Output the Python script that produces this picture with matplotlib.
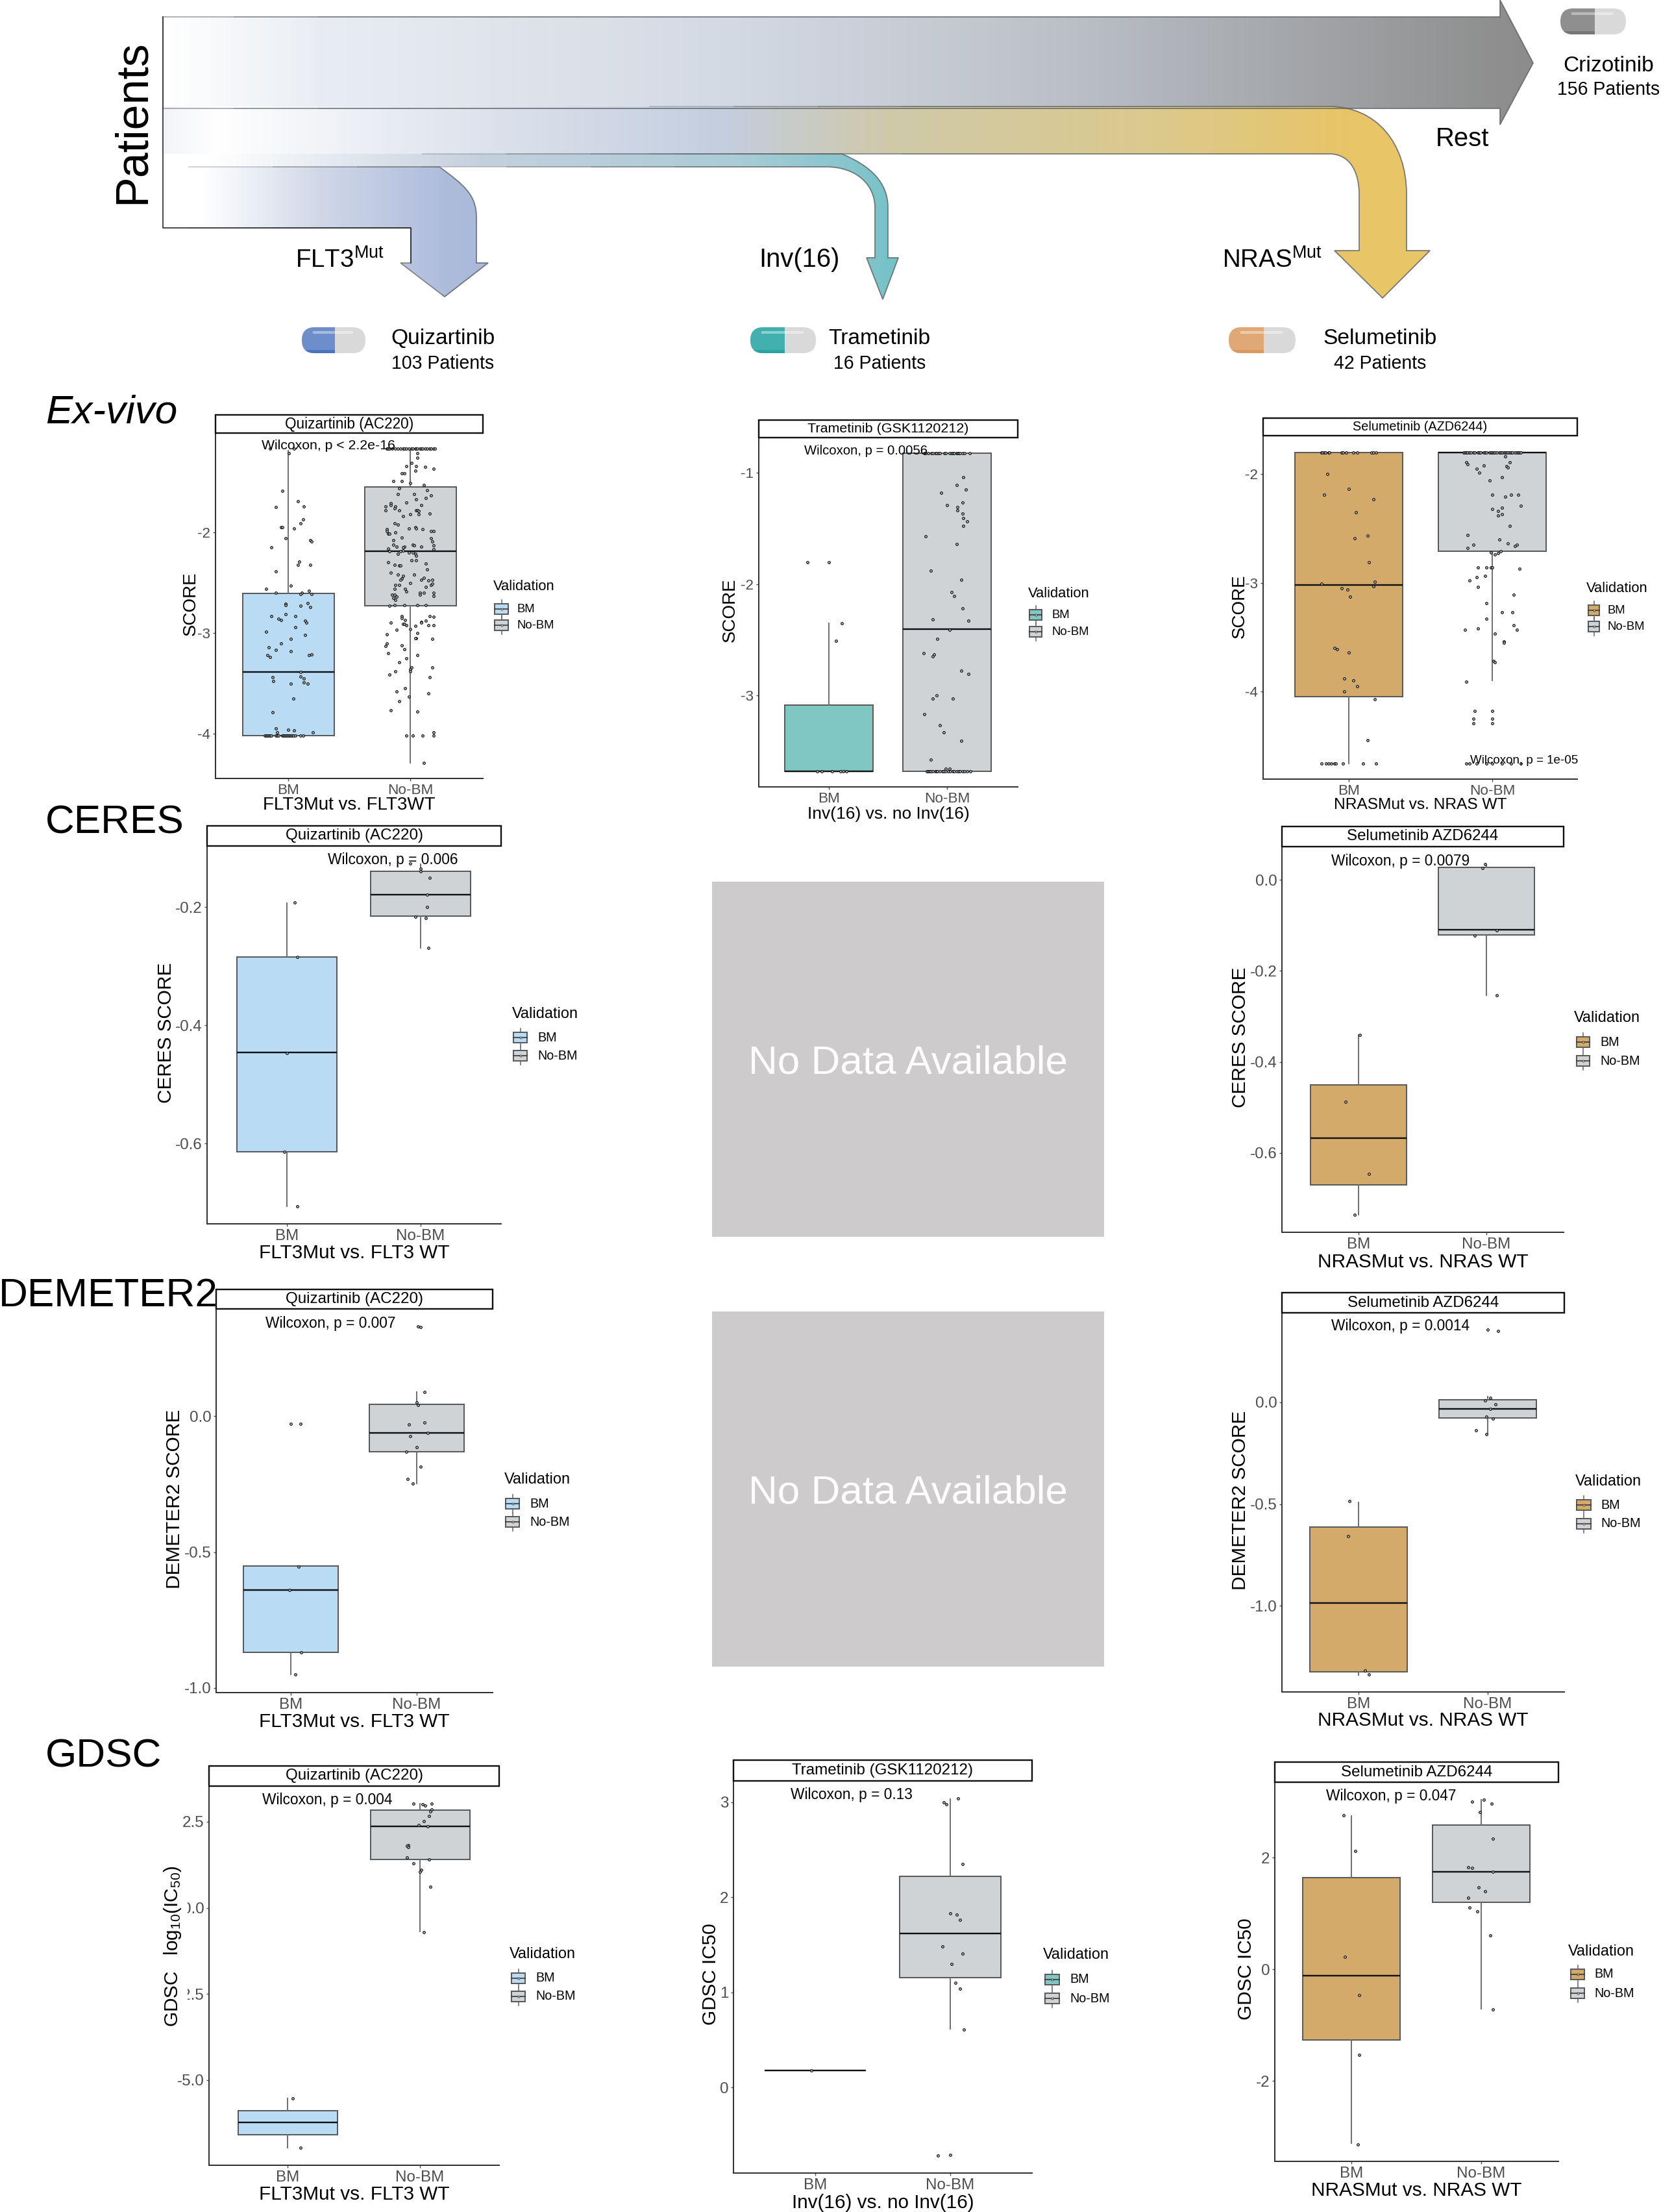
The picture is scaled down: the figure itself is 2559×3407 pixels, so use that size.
import matplotlib
matplotlib.use("Agg")
import numpy as np
import matplotlib.pyplot as plt
from matplotlib.path import Path
from matplotlib.patches import PathPatch, Rectangle, FancyBboxPatch
from matplotlib.colors import LinearSegmentedColormap

plt.rcParams['font.family'] = ['Liberation Sans', 'DejaVu Sans']
plt.rcParams['mathtext.fontset'] = 'custom'
plt.rcParams['mathtext.rm'] = 'Liberation Sans'
plt.rcParams['mathtext.it'] = 'Liberation Sans:italic'
plt.rcParams['mathtext.default'] = 'regular'

W, H = 2559, 3407
GROUPS = ["BM", "No-BM"]
BLUE, TEAL, TAN, GREY = '#b9dbf4', '#80c6c2', '#d4aa6b', '#d0d3d6'

# box stats are [q1, median, q3, whisker low, whisker high]
# points are (horizontal jitter, value)

# ---- Ex-vivo
ev_quiz_bm_box = [-4.02, -3.39, -2.605, -4.02, -1.19]
ev_quiz_nobm_box = [-2.73, -2.19, -1.55, -4.29, -1.17]
ev_quiz_bm_floor = [-.19, -.18, -.17, -.16, -.15, -.14, -.10, -.09, -.08, -.05, -.04, -.03, -.02, -.01, 0, .01, .02, .03, .04, .06, .10, .12]
ev_quiz_bm_pts = [(-.15, -1.17), (.005, -1.21), (.05, -1.17), (-.05, -1.59), (.08, -1.69), (.13, -1.74), (-.10, -1.75),
                  (.12, -1.87), (.10, -1.91), (-.06, -1.95), (-.05, -1.95), (.05, -1.96), (-.02, -2.06), (.18, -2.08),
                  (.19, -2.09), (-.14, -2.15), (.09, -2.29), (.08, -2.32), (.18, -2.32), (-.10, -2.39), (.02, -2.53),
                  (-.18, -2.56), (-.10, -2.60), (.11, -2.60), (.10, -2.61), (.17, -2.58), (.19, -2.61), (-.02, -2.71),
                  (-.02, -2.72), (.16, -2.70), (.10, -2.73), (.18, -2.74), (-.02, -2.81), (-.14, -2.83), (.06, -2.83),
                  (-.08, -2.86), (-.06, -2.87), (.14, -2.88), (.15, -2.90), (.06, -2.94), (-.18, -2.99), (.02, -3.06),
                  (.14, -3.02), (-.06, -3.10), (-.16, -3.14), (-.10, -3.17), (.02, -3.18), (.19, -3.21), (.17, -3.22),
                  (-.17, -3.22), (-.15, -3.24), (.10, -3.39), (.10, -3.43), (.13, -3.45), (-.13, -3.44), (-.12, -3.48),
                  (.02, -3.50), (.13, -3.49), (.16, -3.50), (.04, -3.65), (-.13, -3.79), (-.10, -3.95), (-.09, -3.99),
                  (0, -3.96), (.05, -3.97), (.20, -3.99)]
ev_quiz_nobm_ceiling = [-.19, -.18, -.17, -.15, -.12, -.10, -.08, -.06, -.05, -.03, -.01, .01, .02, .04, .05, .06, .08, .09, .10, .12, .14, .16, .17, .19, .20]
ev_quiz_nobm_pts = [(.06, -1.21), (.06, -1.26), (.01, -1.31), (-.03, -1.34), (.05, -1.34), (.12, -1.35), (.19, -1.37),
                    (.04, -1.39), (-.07, -1.41), (-.05, -1.41), (-.14, -1.49), (-.07, -1.49), (0, -1.51), (.11, -1.53),
                    (-.09, -1.56), (.14, -1.58), (-.10, -1.62), (.03, -1.62), (.17, -1.63), (.13, -1.66), (.05, -1.67),
                    (-.03, -1.70), (.09, -1.73), (-.16, -1.71), (-.20, -1.74), (-.16, -1.73), (-.12, -1.74), (-.20, -1.78),
                    (-.13, -1.76), (-.09, -1.78), (.05, -1.78), (.06, -1.78), (.07, -1.79), (0, -1.82), (.07, -1.82),
                    (.16, -1.81), (-.06, -1.84), (-.13, -1.91), (-.10, -1.92), (.04, -1.95), (.05, -1.96), (-.01, -1.96),
                    (-.19, -1.97), (-.19, -1.99), (-.18, -2.01), (-.17, -2.01), (-.12, -2.0), (.10, -1.97), (.17, -1.99),
                    (.19, -1.99), (-.07, -2.05), (.17, -2.06), (-.14, -2.08), (.18, -2.09), (-.14, -2.12), (.19, -2.13),
                    (.02, -2.12), (.03, -2.13), (-.11, -2.14), (.09, -2.14), (-.05, -2.14), (-.06, -2.15), (-.18, -2.16),
                    (.19, -2.17), (-.06, -2.18), (-.08, -2.19), (-.17, -2.19), (-.10, -2.21), (-.01, -2.20), (.02, -2.20),
                    (.04, -2.21), (.05, -2.23), (.01, -2.28), (.05, -2.28), (-.18, -2.30), (-.13, -2.32), (-.09, -2.33),
                    (-.08, -2.33), (.13, -2.31), (.14, -2.37), (-.16, -2.40), (-.10, -2.42), (.03, -2.42), (-.06, -2.43),
                    (-.07, -2.46), (-.08, -2.47), (.09, -2.47), (.11, -2.45), (.18, -2.47), (-.12, -2.52), (-.09, -2.52),
                    (0, -2.50), (.15, -2.48), (.17, -2.52), (.18, -2.51), (.13, -2.54), (-.13, -2.56), (-.04, -2.56),
                    (-.03, -2.59), (.08, -2.60), (.11, -2.60), (.08, -2.62), (.19, -2.60), (.19, -2.63), (-.15, -2.62),
                    (-.13, -2.62), (-.14, -2.65), (-.11, -2.64), (-.12, -2.67), (-.17, -2.73), (-.13, -2.72), (-.05, -2.72),
                    (.06, -2.72), (.13, -2.72), (-.07, -2.83), (-.07, -2.85), (-.04, -2.87), (.16, -2.83), (.19, -2.84),
                    (-.16, -2.90), (-.06, -2.91), (-.05, -2.91), (-.03, -2.92), (.09, -2.89), (.09, -2.90), (.13, -2.88),
                    (.15, -2.92), (.19, -2.92), (.04, -2.93), (0, -2.96), (-.11, -2.97), (-.19, -3.01), (.06, -3.0),
                    (.05, -3.05), (.04, -3.05), (.18, -3.06), (-.19, -3.10), (-.20, -3.13), (-.07, -3.12), (-.05, -3.16),
                    (-.18, -3.20), (.06, -3.22), (-.03, -3.25), (-.09, -3.29), (.01, -3.34), (.18, -3.34), (0, -3.36),
                    (0, -3.38), (-.12, -3.38), (-.17, -3.41), (.16, -3.44), (-.04, -3.55), (-.11, -3.58), (.15, -3.60),
                    (-.01, -3.63), (-.09, -3.68), (-.16, -3.77), (.06, -3.78), (-.03, -4.02), (.02, -4.02), (.10, -4.02),
                    (.19, -4.02), (.19, -3.99), (.11, -4.29)]

ev_tram_bm_box = [-3.68, -3.68, -3.09, -3.68, -2.35]
ev_tram_nobm_box = [-3.68, -2.405, -0.825, -3.68, -0.825]
ev_tram_bm_pts = [(-.18, -1.805), (0, -1.805), (.11, -2.35), (.06, -2.51), (-.10, -3.68), (-.06, -3.68), (.03, -3.68),
                  (.10, -3.68), (.12, -3.68), (.15, -3.68)]
ev_tram_nobm_ceiling = [-.19, -.18, -.16, -.13, -.12, -.10, -.09, -.07, -.06, -.02, -.01, .02, .04, .05, .06, .08, .09, .10, .11, .13, .15, .19]
ev_tram_nobm_floor = [-.17, -.16, -.15, -.14, -.12, -.10, -.09, -.08, -.06, -.04, -.03, -.01, .01, .03, .05, .06, .08, .10, .11, .13, .15, .17, .20]
ev_tram_nobm_pts = [(.14, -1.04), (.08, -1.11), (.16, -1.15), (-.05, -1.18), (.13, -1.27), (0, -1.29), (.09, -1.31),
                    (.09, -1.34), (.13, -1.37), (.14, -1.41), (.17, -1.44), (.14, -1.48), (-.18, -1.57), (.08, -1.64),
                    (-.14, -1.88), (.12, -1.96), (.04, -2.07), (.06, -2.11), (.13, -2.22), (-.12, -2.32), (.18, -2.33),
                    (.02, -2.41), (-.08, -2.49), (-.20, -2.62), (-.11, -2.63), (-.12, -2.65), (.12, -2.78), (.18, -2.81),
                    (-.09, -3.0), (-.12, -3.03), (.05, -3.03), (-.19, -3.17), (-.06, -3.27), (-.03, -3.33), (.12, -3.41),
                    (-.14, -3.58), (-.01, -3.66), (.02, -3.66)]

ev_selu_bm_box = [-4.05, -3.02, -1.80, -4.66, -1.80]
ev_selu_nobm_box = [-2.71, -1.80, -1.80, -3.90, -1.80]
ev_selu_bm_ceiling = [-.19, -.185, -.17, -.165, -.14, -.135, -.05, -.04, -.02, .03, .06, .16, .17, .19]
ev_selu_bm_floor = [-.19, -.16, -.14, -.12, -.10, -.09, -.04, .10, .19]
ev_selu_bm_pts = [(-.15, -2.0), (0, -2.14), (-.17, -2.19), (.17, -2.23), (.05, -2.35), (.13, -2.57), (.04, -2.59),
                  (.14, -2.81), (-.19, -3.01), (.18, -2.99), (.17, -3.03), (-.05, -3.05), (-.01, -3.06), (.01, -3.13),
                  (-.10, -3.60), (-.08, -3.61), (0, -3.64), (-.03, -3.88), (.03, -3.90), (.06, -3.95), (-.03, -4.0),
                  (.18, -4.07), (.13, -4.45)]
ev_selu_nobm_ceiling = [-.20, -.19, -.18, -.17, -.16, -.15, -.13, -.12, -.10, -.09, -.08, -.06, -.05, -.04, -.02, -.01, 0, .01, .02, .03, .05, .06, .07, .08, .09, .10, .11, .12, .13, .14, .16, .17, .18, .19, .20]
ev_selu_nobm_floor = [-.18, -.16, -.11, -.04, 0, .07, .13, .20]
ev_selu_nobm_pts = [(.09, -1.84), (-.18, -1.89), (-.17, -1.91), (.12, -1.89), (-.06, -1.92), (.10, -1.93), (.11, -1.94),
                    (-.11, -1.95), (-.09, -1.99), (.07, -2.03), (-.02, -2.06), (0, -2.19), (.09, -2.21), (.13, -2.19),
                    (.18, -2.19), (.20, -2.29), (.07, -2.31), (0, -2.32), (.04, -2.34), (.07, -2.37), (.04, -2.38),
                    (.12, -2.48), (-.17, -2.56), (.05, -2.60), (.11, -2.64), (-.13, -2.65), (.16, -2.66), (.17, -2.65),
                    (-.17, -2.68), (.06, -2.71), (-.01, -2.72), (.04, -2.73), (.02, -2.74), (-.10, -2.86), (-.04, -2.86),
                    (-.01, -2.86), (0, -2.86), (.19, -2.87), (-.05, -2.94), (-.11, -2.95), (-.16, -2.98), (-.10, -3.04),
                    (.15, -3.11), (-.04, -3.19), (.14, -3.27), (.07, -3.27), (-.04, -3.33), (.15, -3.39), (-.19, -3.43),
                    (-.10, -3.42), (.17, -3.43), (.02, -3.47), (.08, -3.54), (.08, -3.55), (.01, -3.72), (.02, -3.73),
                    (-.18, -3.91), (-.12, -4.18), (0, -4.18), (-.13, -4.25), (0, -4.25), (-.13, -4.29), (0, -4.29)]

# ---- CERES
ce_quiz_bm_box = [-.614, -.446, -.285, -.707, -.193]
ce_quiz_nobm_box = [-.215, -.179, -.14, -.269, -.127]
ce_quiz_bm_pts = [(.06, -.192), (.08, -.285), (0, -.447), (-.02, -.614), (.08, -.707)]
ce_quiz_nobm_pts = [(-.08, -.126), (0, -.135), (0, -.14), (.07, -.15), (.05, -.179), (.05, -.2), (-.04, -.216),
                    (.04, -.219), (.06, -.269)]
ce_selu_bm_box = [-.67, -.567, -.45, -.735, -.341]
ce_selu_nobm_box = [-.121, -.11, .027, -.254, .033]
ce_selu_bm_pts = [(.01, -.341), (-.10, -.487), (.08, -.646), (-.03, -.735)]
ce_selu_nobm_pts = [(-.01, .034), (-.03, .025), (.08, -.111), (-.09, -.123), (.08, -.254)]

# ---- DEMETER2
de_quiz_bm_box = [-.868, -.639, -.5525, -.951, -.5525]
de_quiz_nobm_box = [-.132, -.062, .042, -.249, .088]
de_quiz_bm_pts = [(0, -.029), (.075, -.029), (.06, -.553), (-.01, -.639), (.08, -.868), (.035, -.951)]
de_quiz_nobm_pts = [(.01, .329), (.03, .328), (.06, .088), (0, .051), (.01, .041), (-.06, -.031), (.06, -.025),
                    (.09, -.063), (-.05, -.075), (0, -.114), (-.08, -.131), (.03, -.187), (-.07, -.231), (-.03, -.248)]
de_selu_bm_box = [-1.326, -.988, -.614, -1.342, -.491]
de_selu_nobm_box = [-.076, -.031, .013, -.155, .03]
de_selu_bm_pts = [(-.07, -.487), (-.08, -.658), (.05, -1.318), (.08, -1.34)]
de_selu_nobm_pts = [(0, .358), (.08, .352), (.02, .023), (-.02, .01), (.06, -.009), (.02, -.031), (-.01, -.069),
                    (.04, -.081), (-.09, -.138), (-.01, -.155)]

# ---- GDSC
gd_quiz_bm_box = [-6.59, -6.233, -5.883, -6.958, -5.533]
gd_quiz_nobm_box = [1.41, 2.37, 2.84, -.69, 3.02]
gd_quiz_bm_pts = [(.04, -5.525), (.10, -6.958)]
gd_quiz_nobm_pts = [(-.05, 3.02), (.02, 3.0), (.04, 2.97), (.09, 3.02), (.09, 2.85), (.08, 2.81), (.07, 2.67), (.03, 2.51),
                    (-.01, 2.41), (.06, 2.36), (-.09, 1.82), (-.10, 1.81), (-.09, 1.77), (-.10, 1.47), (.07, 1.41),
                    (-.05, 1.29), (.01, 1.11), (0, 1.05), (.08, .61), (.03, -.71)]
gd_tram_bm_box = [.175, .175, .175, .175, .175]
gd_tram_nobm_box = [1.157, 1.617, 2.224, .613, 3.034]
gd_tram_bm_pts = [(-.03, .18)]
gd_tram_nobm_pts = [(.06, 3.04), (-.05, 3.0), (-.03, 2.98), (.09, 2.35), (0, 1.83), (.05, 1.82), (.07, 1.76), (-.06, 1.48),
                    (.09, 1.41), (.01, 1.30), (.04, 1.10), (.07, 1.04), (.10, .61), (-.09, -.72), (0, -.71)]
gd_selu_bm_box = [-1.263, -.122, 1.634, -3.114, 2.748]
gd_selu_nobm_box = [1.199, 1.745, 2.578, -.711, 3.034]
gd_selu_bm_pts = [(-.06, 2.76), (.03, 2.12), (-.05, .22), (.06, -.47), (.06, -1.53), (.05, -3.135)]
gd_selu_nobm_pts = [(.02, 3.03), (-.07, 3.0), (.08, 2.96), (-.01, 2.81), (.09, 2.34), (-.10, 1.82), (-.07, 1.81), (.09, 1.75),
                    (-.02, 1.47), (.03, 1.40), (-.10, 1.28), (-.09, 1.10), (-.03, 1.03), (.07, .60), (.09, -.72)]


def row(offs, y):
    return [(o, y) for o in offs]


panels = [
    dict(title="Quizartinib (AC220)", xlabel="FLT3Mut vs. FLT3WT", ylabel="SCORE", wil="Wilcoxon, p < 2.2e-16", color=BLUE,
         boxes=(ev_quiz_bm_box, ev_quiz_nobm_box),
         pts=(ev_quiz_bm_pts + row(ev_quiz_bm_floor, -4.02), ev_quiz_nobm_pts + row(ev_quiz_nobm_ceiling, -1.17)),
         ticks=[-4, -3, -2], labels=["-4", "-3", "-2"], calib=(-2, 820, -4, 1130), xpx=(444, 632),
         box=(332, 744, 639, 667, 1199), xl_y=1237, yl=(290, 933), wil_xy=(403, 684), s=1.0,
         leg=(760, 903, 762, 783, 938, 963, 796)),
    dict(title="Trametinib (GSK1120212)", xlabel="Inv(16) vs. no Inv(16)", ylabel="SCORE", wil="Wilcoxon, p = 0.0056", color=TEAL,
         boxes=(ev_tram_bm_box, ev_tram_nobm_box),
         pts=(ev_tram_bm_pts, ev_tram_nobm_pts + row(ev_tram_nobm_ceiling, -.825) + row(ev_tram_nobm_floor, -3.68)),
         ticks=[-3, -2, -1], labels=["-3", "-2", "-1"], calib=(-1, 728, -3, 1071), xpx=(1277, 1459),
         box=(1169, 1568, 647, 674, 1212), xl_y=1251, yl=(1121, 943), wil_xy=(1239, 692), s=1.0, ts=.95,
         leg=(1584, 914, 1586, 1605, 947, 973, 1620)),
    dict(title="Selumetinib (AZD6244)", xlabel="NRASMut vs. NRAS WT", ylabel="SCORE", wil="Wilcoxon, p = 1e-05", color=TAN,
         boxes=(ev_selu_bm_box, ev_selu_nobm_box),
         pts=(ev_selu_bm_pts + row(ev_selu_bm_ceiling, -1.80) + row(ev_selu_bm_floor, -4.66),
              ev_selu_nobm_pts + row(ev_selu_nobm_ceiling, -1.80) + row(ev_selu_nobm_floor, -4.66)),
         ticks=[-4, -3, -2], labels=["-4", "-3", "-2"], calib=(-2, 730, -4, 1065), xpx=(2078, 2299),
         box=(1946, 2430, 644, 671, 1200), xl_y=1237, yl=(1906, 937), wil_xy=(2265, 1169), s=1.0, ts=.88,
         leg=(2444, 906, 2447, 2464, 940, 965, 2476)),
    dict(title="Quizartinib (AC220)", xlabel="FLT3Mut vs. FLT3 WT", ylabel="CERES SCORE", wil="Wilcoxon, p = 0.006", color=BLUE,
         boxes=(ce_quiz_bm_box, ce_quiz_nobm_box), pts=(ce_quiz_bm_pts, ce_quiz_nobm_pts),
         ticks=[-.6, -.4, -.2], labels=["-0.6", "-0.4", "-0.2"], calib=(-.2, 1397, -.6, 1761), xpx=(442, 648),
         box=(319, 772, 1272, 1303, 1885), xl_y=1927, yl=(252, 1594), wil_xy=(505, 1322), s=1.07,
         leg=(789, 1562, 791, 812, 1598, 1626, 828)),
    dict(title="Selumetinib AZD6244", xlabel="NRASMut vs. NRAS WT", ylabel="CERES SCORE", wil="Wilcoxon, p = 0.0079", color=TAN,
         boxes=(ce_selu_bm_box, ce_selu_nobm_box), pts=(ce_selu_bm_pts, ce_selu_nobm_pts),
         ticks=[-.6, -.4, -.2, 0], labels=["-0.6", "-0.4", "-0.2", "0.0"], calib=(0, 1355, -.6, 1776), xpx=(2093, 2290),
         box=(1975, 2409, 1273, 1304, 1898), xl_y=1941, yl=(1907, 1601), wil_xy=(2051, 1325), s=1.07,
         leg=(2425, 1568, 2429, 2449, 1605, 1634, 2465)),
    dict(title="Quizartinib (AC220)", xlabel="FLT3Mut vs. FLT3 WT", ylabel="DEMETER2 SCORE", wil="Wilcoxon, p = 0.007", color=BLUE,
         boxes=(de_quiz_bm_box, de_quiz_nobm_box), pts=(de_quiz_bm_pts, de_quiz_nobm_pts),
         ticks=[-1, -.5, 0], labels=["-1.0", "-0.5", "0.0"], calib=(0, 2181, -1, 2600), xpx=(448, 642),
         box=(333, 759, 1986, 2016, 2607), xl_y=2649, yl=(265, 2312), wil_xy=(409, 2037), s=1.07,
         leg=(777, 2279, 779, 800, 2316, 2344, 816)),
    dict(title="Selumetinib AZD6244", xlabel="NRASMut vs. NRAS WT", ylabel="DEMETER2 SCORE", wil="Wilcoxon, p = 0.0014", color=TAN,
         boxes=(de_selu_bm_box, de_selu_nobm_box), pts=(de_selu_bm_pts, de_selu_nobm_pts),
         ticks=[-1, -.5, 0], labels=["-1.0", "-0.5", "0.0"], calib=(0, 2160, -1, 2473), xpx=(2093, 2292),
         box=(1975, 2410, 1991, 2022, 2606), xl_y=2647, yl=(1907, 2314), wil_xy=(2051, 2041), s=1.07,
         leg=(2427, 2282, 2429, 2451, 2318, 2347, 2466)),
    dict(title="Quizartinib (AC220)", xlabel="FLT3Mut vs. FLT3 WT", ylabel=r"GDSC   log$_{10}$(IC$_{50}$)", wil="Wilcoxon, p = 0.004", color=BLUE,
         boxes=(gd_quiz_bm_box, gd_quiz_nobm_box), pts=(gd_quiz_bm_pts, gd_quiz_nobm_pts),
         ticks=[-5, -2.5, 0, 2.5], labels=["-5.0", "-2.5", "0.0", "2.5"], calib=(2.5, 2806, -5, 3204), xpx=(443, 647),
         box=(322, 769, 2720, 2751, 3335), xl_y=3377, yl=(262, 3001), wil_xy=(404, 2770), s=1.07,
         leg=(785, 3010, 788, 809, 3047, 3075, 825), yl_mask=True),
    dict(title="Trametinib (GSK1120212)", xlabel="Inv(16) vs. no Inv(16)", ylabel="GDSC IC50", wil="Wilcoxon, p = 0.13", color=TEAL,
         boxes=(gd_tram_bm_box, gd_tram_nobm_box), pts=(gd_tram_bm_pts, gd_tram_nobm_pts),
         ticks=[0, 1, 2, 3], labels=["0", "1", "2", "3"], calib=(3, 2776, 0, 3215), xpx=(1256, 1464),
         box=(1130, 1590, 2711, 2743, 3347), xl_y=3390, yl=(1091, 3044), wil_xy=(1218, 2763), s=1.07,
         leg=(1607, 3011, 1610, 1632, 3049, 3078, 1648)),
    dict(title="Selumetinib AZD6244", xlabel="NRASMut vs. NRAS WT", ylabel="GDSC IC50", wil="Wilcoxon, p = 0.047", color=TAN,
         boxes=(gd_selu_bm_box, gd_selu_nobm_box), pts=(gd_selu_bm_pts, gd_selu_nobm_pts),
         ticks=[-2, 0, 2], labels=["-2", "0", "2"], calib=(2, 2861, -2, 3205), xpx=(2082, 2282),
         box=(1964, 2401, 2714, 2745, 3329), xl_y=3371, yl=(1916, 3036), wil_xy=(2043, 2765), s=1.07,
         leg=(2416, 3006, 2420, 2441, 3041, 3070, 2456)),
]


def pt(px):
    return px * 0.72


fig = plt.figure(figsize=(W / 100, H / 100), dpi=100, facecolor='white')
over = fig.add_axes([0, 0, 1, 1], zorder=5)
over.patch.set_visible(False)
over.set_axis_off()


def draw_panel(p):
    left, right, s_top, s_bot, bottom = p['box']
    s = p['s']
    ts = p.get('ts', s)
    ax = fig.add_axes([left / W, 1 - bottom / H, (right - left) / W, (bottom - s_bot) / H], zorder=1)
    x1, x2 = p['xpx']
    unit = x2 - x1
    ax.set_xlim(1 + (left - x1) / unit, 1 + (right - x1) / unit)
    v1, y1, v2, y2 = p['calib']
    per = (v2 - v1) / (y2 - y1)
    ax.set_ylim(v1 + (bottom - y1) * per, v1 + (s_bot - y1) * per)

    stats = [dict(q1=b[0], med=b[1], q3=b[2], whislo=b[3], whishi=b[4], fliers=[]) for b in p['boxes']]
    res = ax.bxp(stats, positions=[1, 2], widths=.75, patch_artist=True, showcaps=False, showfliers=False, manage_ticks=False,
                 boxprops=dict(edgecolor='#5a5a5a', linewidth=pt(2)),
                 whiskerprops=dict(color='#6a6a6a', linewidth=pt(1.9)),
                 medianprops=dict(color='#111111', linewidth=pt(2.4), solid_capstyle='butt'))
    res['boxes'][0].set_facecolor(p['color'])
    res['boxes'][1].set_facecolor(GREY)
    for i, group in enumerate(p['pts']):
        arr = np.array(group)
        ax.scatter(i + 1 + arr[:, 0], arr[:, 1], s=7.5, facecolor='#aeb3b6', edgecolor='#000000', linewidth=.7, zorder=4, clip_on=False)

    ax.set_xticks([1, 2])
    ax.set_xticklabels(GROUPS)
    ax.set_yticks(p['ticks'])
    ax.set_yticklabels(p['labels'])
    ax.tick_params(labelsize=pt(22.5 * s), colors='#4d4d4d', length=3, width=1, pad=2.5)
    for side in ['top', 'right']:
        ax.spines[side].set_visible(False)
    for side in ['left', 'bottom']:
        ax.spines[side].set_linewidth(pt(2))
        ax.spines[side].set_color('#333333')

    ax.set_xlabel(p['xlabel'], fontsize=pt(27.8 * ts), va='center', color='black')
    ax.xaxis.set_label_coords((left + right) / 2, p['xl_y'] + 3, transform=over.transData)
    ax.set_ylabel(p['ylabel'], fontsize=pt(27.8 * s), va='center', ha='center', color='black')
    ax.yaxis.set_label_coords(p['yl'][0] + 4, p['yl'][1] - 3, transform=over.transData)
    if p.get('yl_mask'):
        ax.yaxis.label.set_bbox(dict(facecolor='white', edgecolor='none', pad=5))

    over.add_patch(Rectangle((left, s_top), right - left, s_bot - s_top, facecolor='white', edgecolor='#111111', linewidth=pt(2.4)))
    over.text((left + right) / 2, (s_top + s_bot) / 2, p['title'], ha='center', va='center', fontsize=pt(22.6 * ts))
    over.text(p['wil_xy'][0], p['wil_xy'][1] + 2, p['wil'], ha='left', va='center', fontsize=pt(21.3 * ts))

    tx, ty, k0, k1, y_a, y_b, lx = p['leg']
    over.text(tx, ty, "Validation", ha='left', va='center', fontsize=pt(22 * s))
    for yy, name, col in [(y_a, GROUPS[0], p['color']), (y_b, GROUPS[1], GREY)]:
        mid = (k0 + k1) / 2
        over.plot([mid, mid], [yy - 14, yy + 14], color='#6a6a6a', lw=pt(1.6))
        over.add_patch(Rectangle((k0, yy - 8), k1 - k0, 16, facecolor=col, edgecolor='#5a5a5a', linewidth=pt(2), zorder=3))
        over.plot([k0, k1], [yy, yy], color='#333333', lw=pt(1.6), zorder=4)
        over.scatter([mid], [yy], s=5, facecolor='#d9dde0', edgecolor='#1a1a1a', linewidth=.5, zorder=5)
        over.text(lx, yy, name, ha='left', va='center', fontsize=pt(18.5 * s))


def flow(verts_codes, stops, x0, x1, y0, y1, edge_from):
    verts = [v for v, c in verts_codes]
    codes = [c for v, c in verts_codes]
    path = Path(verts, codes)
    cmap = LinearSegmentedColormap.from_list('flow', stops)
    patch = PathPatch(path, facecolor='none', edgecolor='none')
    over.add_patch(patch)
    im = over.imshow(np.linspace(0, 1, 512).reshape(1, -1), cmap=cmap, vmin=0, vmax=1, extent=(x0, x1, y1, y0), aspect='auto', zorder=1)
    im.set_clip_path(patch)
    # outline fades in towards the right, a few passes with growing start
    for k in range(4):
        line = PathPatch(path, facecolor='none', edgecolor='#5f6468', linewidth=pt(1.6), alpha=.35, zorder=2)
        over.add_patch(line)
        line.set_clip_path(Rectangle((edge_from + k * 130, 0), W, H, transform=over.transData))


M, L, C, Z = Path.MOVETO, Path.LINETO, Path.CURVE4, Path.CLOSEPOLY

flow([((251, 26), M), ((2311, 26), L), ((2311, 0), L), ((2362, 97), L), ((2311, 192), L), ((2311, 167), L), ((251, 167), L), ((251, 26), Z)],
     [(0, '#ffffff'), (.113, '#e9edf3'), (.42, '#d3d9e3'), (.654, '#bcc1c9'), (.975, '#8f8f8f'), (1, '#8c8c8c')], 251, 2362, 0, 192, 100)
flow([((251, 164), M), ((2048, 164), L), ((2120, 164), C), ((2167, 220), C), ((2167, 300), C), ((2167, 386), L), ((2203, 386), L),
      ((2130, 459), L), ((2056, 386), L), ((2094, 386), L), ((2094, 300), L), ((2094, 265), C), ((2080, 237), C), ((2048, 237), C),
      ((251, 237), L), ((251, 164), Z)],
     [(0, '#f2f4f8'), (.04, '#ffffff'), (.206, '#e4e8f0'), (.44, '#c3cedf'), (.58, '#d0c9a8'), (.79, '#dcc98c'), (.94, '#e8c566'), (1, '#e8c566')],
     251, 2203, 164, 459, 1000)
flow([((251, 237), M), ((1297, 237), L), ((1340, 255), C), ((1368, 280), C), ((1368, 320), C), ((1368, 397), L), ((1384, 397), L),
      ((1360, 461), L), ((1335, 397), L), ((1348, 397), L), ((1348, 320), L), ((1348, 285), C), ((1320, 257), C), ((1273, 257), C),
      ((251, 257), L), ((251, 237), Z)],
     [(0, '#ffffff'), (.066, '#ffffff'), (.43, '#c5d0de'), (.787, '#a9ccd6'), (.94, '#85c5cc'), (1, '#74c2c6')], 251, 1384, 237, 461, 650)
flow([((251, 257), M), ((677, 257), L), ((715, 285), C), ((734, 300), C), ((734, 335), C), ((734, 405), L), ((752, 405), L),
      ((685, 457), L), ((617, 405), L), ((633, 405), L), ((633, 351), L), ((251, 351), L), ((251, 257), Z)],
     [(0, '#ffffff'), (.12, '#ffffff'), (.48, '#d0d8e8'), (.87, '#aebcdc'), (1, '#a9b9da')], 251, 752, 257, 457, 290)
over.plot([251, 251, 633, 633], [26, 351, 351, 405], color='#222222', lw=pt(1.6), zorder=3)

over.text(205, 188, "Patients", rotation=90, ha='center', va='center', fontsize=pt(70))
over.text(455, 401, r"FLT3$^{Mut}$", ha='left', va='center', fontsize=pt(38.5))
over.text(1169, 400, "Inv(16)", ha='left', va='center', fontsize=pt(40))
over.text(1883, 401, r"NRAS$^{Mut}$", ha='left', va='center', fontsize=pt(38.5))
over.text(2212, 214, "Rest", ha='left', va='center', fontsize=pt(40))

drug_labels = [("Crizotinib", "156 Patients", 2478, 101, 138), ("Quizartinib", "103 Patients", 682, 521, 560),
               ("Trametinib", "16 Patients", 1355, 521, 560), ("Selumetinib", "42 Patients", 2126, 521, 560)]
for drug, npat, cx, y1, y2 in drug_labels:
    over.text(cx, y1, drug, ha='center', va='center', fontsize=pt(33.5))
    over.text(cx, y2, npat, ha='center', va='center', fontsize=pt(28.5))

pills = [(2404, 2505, 13, 53, '#8f8f8f', '#777777'), (465, 563, 504, 544, '#6d8ecb', '#4a74bf'),
         (1156, 1257, 504, 544, '#43b0b0', '#2aa3a3'), (1893, 1996, 504, 544, '#dfa876', '#d99a5c')]
for x0, x1, y0, y1, col, dark in pills:
    r = (y1 - y0) / 2
    shape = FancyBboxPatch((x0 + r, y0 + r), x1 - x0 - 2 * r, 0.001, boxstyle="round,pad=%g,rounding_size=%g" % (r, r), facecolor='#d9d9d9', edgecolor='none', zorder=2)
    over.add_patch(shape)
    split = x0 + (x1 - x0) * .52
    left_half = Rectangle((x0, y0), split - x0, y1 - y0, facecolor=col, edgecolor='none', zorder=3)
    over.add_patch(left_half)
    left_half.set_clip_path(shape)
    bot = Rectangle((x0, y1 - 5), split - x0, 5, facecolor=dark, edgecolor='none', zorder=3)
    over.add_patch(bot)
    bot.set_clip_path(shape)
    over.add_patch(Rectangle((x0 + (x1 - x0) * .17, y0 + 6), (x1 - x0) * .64, 4, facecolor='white', alpha=.4, edgecolor='none', zorder=4))

row_titles = [("Ex-vivo", 70, 636, 'italic'), ("CERES", 70, 1268, 'normal'), ("DEMETER2", -2, 1996, 'normal'), ("GDSC", 70, 2706, 'normal')]
for label, tx, ty, style in row_titles:
    over.text(tx, ty, label, ha='left', va='center', fontsize=pt(62), style=style, zorder=7)

for y0, y1 in [(1358, 1905), (2020, 2567)]:
    over.add_patch(Rectangle((1097, y0), 604, y1 - y0, facecolor='#cdcbcc', edgecolor='none'))
    over.text(1399, (y0 + y1) / 2 + 6, "No Data Available", ha='center', va='center', color='white', fontsize=pt(62))

for p in panels:
    draw_panel(p)

over.set_xlim(0, W)
over.set_ylim(H, 0)
fig.savefig("out.png", dpi=100)
